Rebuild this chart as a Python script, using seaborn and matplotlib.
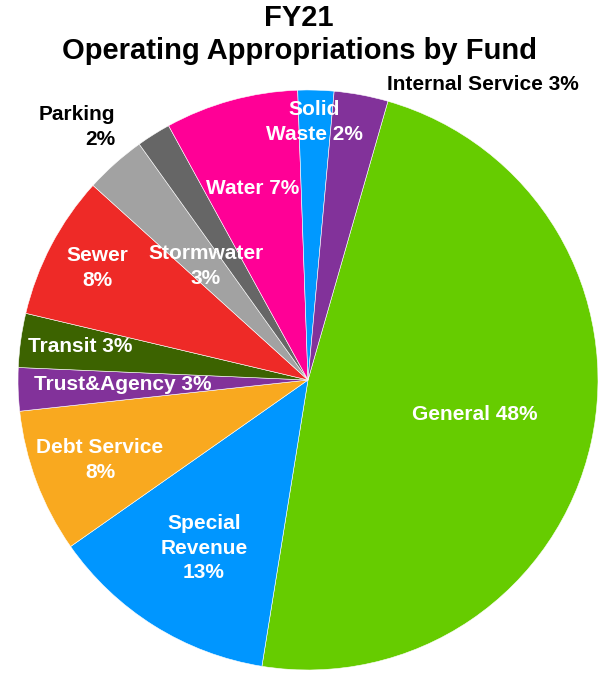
import matplotlib
matplotlib.use("Agg")
import matplotlib.pyplot as plt
import seaborn as sns

funds = ['General', 'Special Revenue', 'Debt Service', 'Trust&Agency', 'Transit', 'Sewer',
         'Stormwater', 'Parking', 'Water', 'Solid Waste', 'Internal Service']
shares = [48.0, 12.7, 8.0, 2.4, 3.0, 8.0, 3.4, 1.9, 7.4, 2.0, 3.0]
pct_text = ['48%', '13%', '8%', '3%', '3%', '8%', '3%', '2%', '7%', '2%', '3%']
label_text = ['General 48%', 'Special\nRevenue\n13%', 'Debt Service\n8%', 'Trust&Agency 3%',
              'Transit 3%', 'Sewer\n8%', 'Stormwater\n3%', 'Parking\n2%', 'Water 7%',
              'Solid\nWaste 2%', 'Internal Service 3%']
colors = ['#66cc00', '#0096ff', '#f9a91f', '#82329a', '#3c6300', '#ee2a27',
          '#a2a2a2', '#666666', '#ff0096', '#0099ff', '#82329a']

sns.set_theme(style="white")
plt.rcParams['font.family'] = ['Liberation Sans', 'DejaVu Sans']

fig = plt.figure(figsize=(5.98, 6.73), dpi=100)
# pie centre at (308, 380) px, radius 290 px
cx, cy, R = 308, 380, 290
ax = fig.add_axes([(cx - R) / 598, (673 - cy - R) / 673, 2 * R / 598, 2 * R / 673])
ax.pie(shares, colors=colors, startangle=74, counterclock=False,
       wedgeprops=dict(linewidth=0.4, edgecolor='white'))
ax.set_xlim(-1, 1)
ax.set_ylim(-1, 1)
ax.set_aspect('equal')
ax.axis('off')

# label positions in pixels of the original picture
label_px = [(475, 414), (204, 548), (100, 460), (123, 385), (80, 346), (97, 268),
            (206, 266), (115, 127), (253, 188), (314, 122), (483, 84)]
for k, (txt, (px, py)) in enumerate(zip(label_text, label_px)):
    x, y = (px - cx) / R, (cy - py) / R
    outside = funds[k] in ('Parking', 'Internal Service')
    ax.text(x, y, txt, ha='right' if funds[k] == 'Parking' else 'center', va='center',
            multialignment='right' if funds[k] == 'Parking' else 'center',
            color='black' if outside else 'white', fontsize=15, fontweight='bold',
            linespacing=1.35, clip_on=False)

fig.text(0.5, 1 - 18 / 673, 'FY21', ha='center', va='center', fontsize=21,
         fontweight='bold', color='black')
fig.text(0.5, 1 - 51 / 673, 'Operating Appropriations by Fund', ha='center', va='center',
         fontsize=21, fontweight='bold', color='black')

fig.savefig('out.png', dpi=100)
